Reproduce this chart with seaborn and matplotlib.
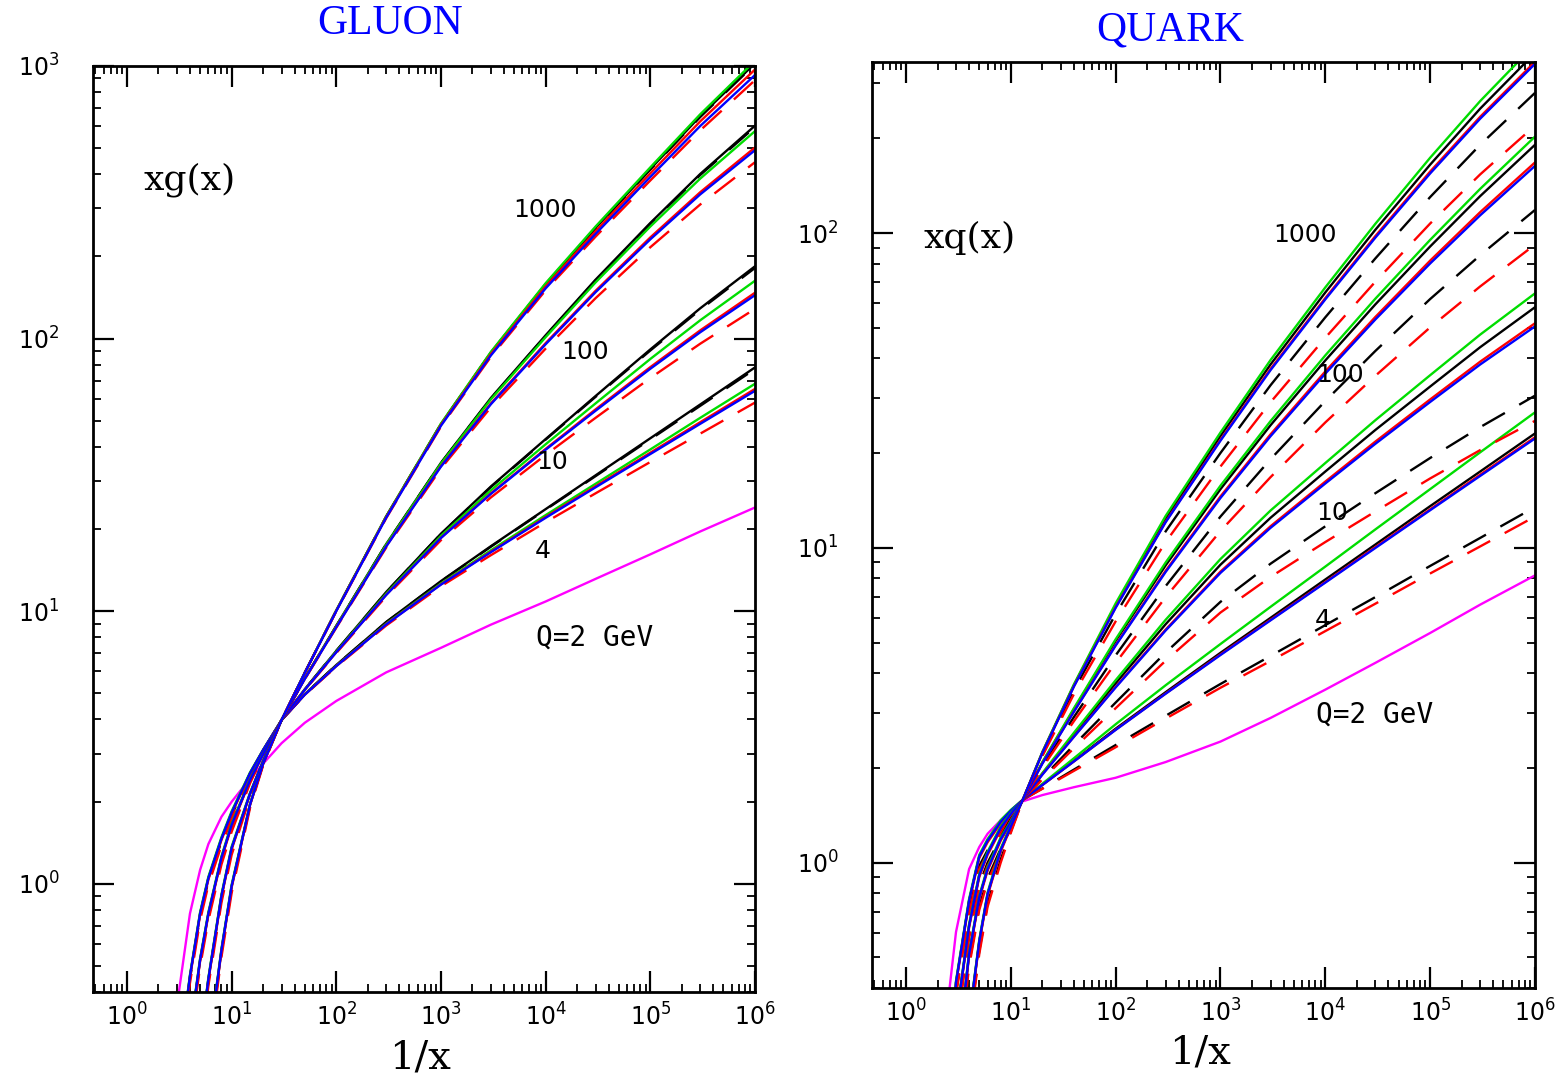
import numpy as np
import matplotlib
matplotlib.use("Agg")
import matplotlib.pyplot as plt
import seaborn as sns
from matplotlib.ticker import FixedLocator, LogLocator, NullFormatter, FuncFormatter

# ---------------- data (stored as log10 of the PDF) -------------
# horizontal grid: 1/x
GLUON_INV_X = [3, 4, 5, 6, 8, 10, 15, 20, 30, 50, 100, 300, 1e3, 3e3, 1e4, 3e4, 1e5, 3e5, 1e6]
QUARK_INV_X = [2.5, 3, 4, 5, 6, 8, 10, 13, 20, 40, 100, 300, 1e3, 3e3, 1e4, 3e4, 1e5, 3e5, 1e6]

# ---- GLUON  log10 xg(x)
G2_MAGENTA = [-0.45, -0.11, 0.05, 0.145, 0.245, 0.30, 0.385, 0.44, 0.515, 0.59, 0.67, 0.775, 0.865, 0.95, 1.035, 1.118, 1.208, 1.292, 1.38]

G4_BLACK = [-0.71, -0.34, -0.11, 0.02, 0.165, 0.26, 0.405, 0.49, 0.60, 0.695, 0.802, 0.960, 1.110, 1.238, 1.374, 1.498, 1.634, 1.758, 1.894]
G4_BLACK_DASH = [-0.72, -0.35, -0.12, 0.01, 0.155, 0.25, 0.40, 0.488, 0.60, 0.695, 0.802, 0.959, 1.109, 1.236, 1.372, 1.495, 1.630, 1.753, 1.888]
G4_GREEN = [-0.705, -0.335, -0.105, 0.025, 0.17, 0.265, 0.408, 0.491, 0.60, 0.694, 0.799, 0.954, 1.101, 1.223, 1.352, 1.467, 1.593, 1.709, 1.834]
G4_RED = [-0.715, -0.345, -0.115, 0.015, 0.16, 0.255, 0.403, 0.489, 0.60, 0.693, 0.798, 0.952, 1.098, 1.218, 1.345, 1.458, 1.581, 1.693, 1.815]
G4_RED_DASH = [-0.735, -0.365, -0.135, -0.005, 0.14, 0.235, 0.393, 0.484, 0.60, 0.692, 0.796, 0.947, 1.091, 1.205, 1.326, 1.432, 1.547, 1.651, 1.765]
G4_BLUE = [-0.71, -0.34, -0.11, 0.02, 0.165, 0.26, 0.405, 0.49, 0.60, 0.693, 0.798, 0.951, 1.097, 1.216, 1.342, 1.454, 1.576, 1.687, 1.808]

G10_BLACK = [-0.96, -0.55, -0.28, -0.11, 0.095, 0.215, 0.38, 0.475, 0.60, 0.713, 0.854, 1.070, 1.284, 1.457, 1.631, 1.789, 1.960, 2.111, 2.265]
G10_BLACK_DASH = [-0.97, -0.56, -0.29, -0.12, 0.085, 0.205, 0.375, 0.472, 0.60, 0.713, 0.854, 1.069, 1.283, 1.455, 1.629, 1.786, 1.956, 2.106, 2.259]
G10_GREEN = [-0.955, -0.545, -0.275, -0.105, 0.10, 0.22, 0.383, 0.476, 0.60, 0.712, 0.852, 1.064, 1.276, 1.443, 1.612, 1.762, 1.925, 2.067, 2.212]
G10_RED = [-0.965, -0.555, -0.285, -0.115, 0.09, 0.21, 0.378, 0.474, 0.60, 0.711, 0.849, 1.060, 1.269, 1.432, 1.595, 1.740, 1.895, 2.030, 2.168]
G10_RED_DASH = [-0.985, -0.575, -0.305, -0.135, 0.07, 0.19, 0.368, 0.469, 0.60, 0.710, 0.846, 1.054, 1.260, 1.417, 1.573, 1.709, 1.855, 1.981, 2.109]
G10_BLUE = [-0.96, -0.55, -0.28, -0.11, 0.095, 0.215, 0.38, 0.475, 0.60, 0.711, 0.849, 1.059, 1.268, 1.43, 1.592, 1.735, 1.889, 2.023, 2.159]

G100_BLACK = [-1.4, -0.93, -0.59, -0.35, -0.045, 0.13, 0.33, 0.45, 0.60, 0.753, 0.946, 1.246, 1.544, 1.782, 2.012, 2.216, 2.424, 2.604, 2.781]
G100_BLACK_DASH = [-1.41, -0.94, -0.60, -0.36, -0.055, 0.12, 0.325, 0.447, 0.60, 0.753, 0.945, 1.246, 1.543, 1.780, 2.010, 2.213, 2.421, 2.600, 2.776]
G100_GREEN = [-1.395, -0.925, -0.585, -0.345, -0.04, 0.135, 0.333, 0.451, 0.60, 0.752, 0.945, 1.244, 1.541, 1.777, 2.005, 2.206, 2.411, 2.587, 2.761]
G100_RED = [-1.405, -0.935, -0.595, -0.355, -0.05, 0.125, 0.328, 0.449, 0.60, 0.751, 0.942, 1.238, 1.532, 1.762, 1.983, 2.175, 2.371, 2.537, 2.701]
G100_RED_DASH = [-1.425, -0.955, -0.615, -0.375, -0.07, 0.105, 0.318, 0.444, 0.60, 0.750, 0.939, 1.233, 1.523, 1.748, 1.963, 2.148, 2.335, 2.492, 2.647]
G100_BLUE = [-1.4, -0.93, -0.59, -0.35, -0.045, 0.13, 0.33, 0.45, 0.60, 0.751, 0.941, 1.237, 1.53, 1.759, 1.979, 2.17, 2.364, 2.529, 2.691]

G1000_BLACK = [-1.9, -1.26, -0.875, -0.61, -0.244, -0.01, 0.29, 0.44, 0.60, 0.774, 1.002, 1.347, 1.686, 1.949, 2.200, 2.406, 2.622, 2.816, 3.010]
G1000_BLACK_DASH = [-1.91, -1.27, -0.885, -0.62, -0.254, -0.02, 0.285, 0.437, 0.60, 0.774, 1.002, 1.347, 1.686, 1.948, 2.199, 2.404, 2.620, 2.813, 3.007]
G1000_GREEN = [-1.895, -1.255, -0.87, -0.605, -0.239, -0.005, 0.293, 0.441, 0.60, 0.774, 1.003, 1.348, 1.688, 1.951, 2.203, 2.411, 2.628, 2.823, 3.019]
G1000_RED = [-1.905, -1.265, -0.88, -0.615, -0.249, -0.015, 0.288, 0.439, 0.60, 0.773, 1.001, 1.345, 1.683, 1.943, 2.191, 2.394, 2.606, 2.797, 2.987]
G1000_RED_DASH = [-1.925, -1.285, -0.90, -0.635, -0.269, -0.035, 0.278, 0.434, 0.60, 0.773, 0.999, 1.341, 1.677, 1.933, 2.177, 2.374, 2.580, 2.764, 2.948]
G1000_BLUE = [-1.9, -1.26, -0.875, -0.61, -0.244, -0.01, 0.29, 0.44, 0.60, 0.773, 1.0, 1.343, 1.68, 1.938, 2.184, 2.384, 2.593, 2.78, 2.967]

# ---- QUARK  log10 xq(x)
Q2_MAGENTA = [-0.45, -0.22, -0.02, 0.05, 0.092, 0.135, 0.165, 0.195, 0.215, 0.24, 0.27, 0.32, 0.385, 0.46, 0.55, 0.635, 0.73, 0.82, 0.913]

Q4_BLACK = [-0.80, -0.38, -0.12, 0.02, 0.07, 0.13, 0.165, 0.20, 0.248, 0.324, 0.426, 0.542, 0.667, 0.778, 0.90, 1.011, 1.133, 1.243, 1.364]
Q4_BLACK_DASH = [-0.83, -0.41, -0.15, -0.01, 0.04, 0.10, 0.15, 0.20, 0.236, 0.296, 0.374, 0.467, 0.568, 0.657, 0.755, 0.844, 0.943, 1.032, 1.13]
Q4_GREEN = [-0.795, -0.375, -0.115, 0.025, 0.075, 0.135, 0.168, 0.20, 0.251, 0.332, 0.44, 0.564, 0.695, 0.813, 0.941, 1.059, 1.187, 1.304, 1.431]
Q4_RED = [-0.805, -0.385, -0.125, 0.015, 0.065, 0.125, 0.163, 0.20, 0.247, 0.322, 0.423, 0.538, 0.662, 0.772, 0.892, 1.003, 1.123, 1.233, 1.352]
Q4_RED_DASH = [-0.84, -0.42, -0.16, -0.02, 0.03, 0.09, 0.145, 0.20, 0.235, 0.292, 0.367, 0.458, 0.556, 0.641, 0.736, 0.823, 0.919, 1.005, 1.10]
Q4_BLUE = [-0.80, -0.38, -0.12, 0.02, 0.07, 0.13, 0.165, 0.20, 0.247, 0.322, 0.422, 0.537, 0.66, 0.77, 0.89, 1.0, 1.12, 1.229, 1.348]

Q10_BLACK = [-1.0, -0.50, -0.20, -0.04, 0.03, 0.11, 0.155, 0.20, 0.283, 0.407, 0.57, 0.758, 0.947, 1.096, 1.243, 1.375, 1.513, 1.638, 1.765]
Q10_BLACK_DASH = [-1.03, -0.53, -0.23, -0.07, 0.0, 0.08, 0.14, 0.20, 0.269, 0.374, 0.509, 0.668, 0.829, 0.95, 1.069, 1.174, 1.286, 1.384, 1.484]
Q10_GREEN = [-0.995, -0.495, -0.195, -0.035, 0.035, 0.115, 0.158, 0.20, 0.285, 0.413, 0.58, 0.772, 0.965, 1.119, 1.27, 1.406, 1.549, 1.678, 1.809]
Q10_RED = [-1.005, -0.505, -0.205, -0.045, 0.025, 0.105, 0.153, 0.20, 0.281, 0.401, 0.559, 0.741, 0.925, 1.069, 1.211, 1.338, 1.472, 1.592, 1.714]
Q10_RED_DASH = [-1.04, -0.54, -0.24, -0.08, -0.01, 0.07, 0.135, 0.20, 0.265, 0.364, 0.491, 0.642, 0.795, 0.908, 1.019, 1.116, 1.221, 1.311, 1.404]
Q10_BLUE = [-1.0, -0.50, -0.20, -0.04, 0.03, 0.11, 0.155, 0.20, 0.28, 0.40, 0.557, 0.738, 0.921, 1.064, 1.205, 1.331, 1.464, 1.583, 1.704]

Q100_BLACK = [-1.15, -0.66, -0.29, -0.11, -0.02, 0.075, 0.13, 0.20, 0.318, 0.488, 0.705, 0.945, 1.187, 1.39, 1.596, 1.774, 1.958, 2.118, 2.281]
Q100_BLACK_DASH = [-1.18, -0.69, -0.32, -0.14, -0.05, 0.045, 0.115, 0.20, 0.308, 0.463, 0.659, 0.879, 1.10, 1.282, 1.467, 1.626, 1.791, 1.93, 2.074]
Q100_GREEN = [-1.145, -0.655, -0.285, -0.105, -0.015, 0.08, 0.133, 0.20, 0.32, 0.491, 0.71, 0.954, 1.198, 1.403, 1.612, 1.792, 1.979, 2.141, 2.307]
Q100_RED = [-1.155, -0.665, -0.295, -0.115, -0.025, 0.07, 0.128, 0.20, 0.316, 0.481, 0.692, 0.928, 1.164, 1.361, 1.561, 1.734, 1.913, 2.067, 2.225]
Q100_RED_DASH = [-1.19, -0.70, -0.33, -0.15, -0.06, 0.035, 0.11, 0.20, 0.302, 0.45, 0.635, 0.844, 1.054, 1.225, 1.399, 1.547, 1.701, 1.831, 1.964]
Q100_BLUE = [-1.15, -0.66, -0.29, -0.11, -0.02, 0.075, 0.13, 0.20, 0.315, 0.48, 0.69, 0.924, 1.159, 1.355, 1.554, 1.726, 1.904, 2.057, 2.214]

Q1000_BLACK = [-1.45, -0.95, -0.50, -0.25, -0.10, 0.04, 0.115, 0.20, 0.351, 0.564, 0.818, 1.093, 1.356, 1.583, 1.812, 2.011, 2.218, 2.396, 2.573]
Q1000_BLACK_DASH = [-1.48, -0.98, -0.53, -0.28, -0.13, 0.01, 0.10, 0.20, 0.344, 0.549, 0.79, 1.053, 1.302, 1.517, 1.733, 1.92, 2.115, 2.281, 2.446]
Q1000_GREEN = [-1.445, -0.945, -0.495, -0.245, -0.095, 0.045, 0.118, 0.20, 0.352, 0.567, 0.824, 1.102, 1.367, 1.597, 1.828, 2.03, 2.24, 2.42, 2.60]
Q1000_RED = [-1.455, -0.955, -0.505, -0.255, -0.105, 0.035, 0.113, 0.20, 0.349, 0.561, 0.812, 1.084, 1.344, 1.569, 1.794, 1.991, 2.196, 2.37, 2.545]
Q1000_RED_DASH = [-1.49, -0.99, -0.54, -0.29, -0.14, 0.0, 0.095, 0.20, 0.339, 0.536, 0.767, 1.019, 1.259, 1.463, 1.668, 1.846, 2.031, 2.187, 2.342]
Q1000_BLUE = [-1.45, -0.95, -0.50, -0.25, -0.10, 0.04, 0.115, 0.20, 0.349, 0.56, 0.81, 1.082, 1.341, 1.565, 1.79, 1.986, 2.19, 2.364, 2.538]

GROUP_LABELS = ["1000", "100", "10", "4", "Q=2 GeV"]

# ---------------- styling -------------
BLACK, GREEN, RED, BLUE, MAGENTA = "#000000", "#00dd00", "#ff0000", "#0000ff", "#ff00ff"
SOLID, DASH = "-", (0, (11, 7))


def series_table(mag, groups):
    rows = [(MAGENTA, SOLID, mag)]
    for blk, blkd, grn, red, redd, blu in groups:
        rows += [(BLACK, SOLID, blk), (BLACK, DASH, blkd), (GREEN, SOLID, grn),
                 (RED, SOLID, red), (RED, DASH, redd), (BLUE, SOLID, blu)]
    return rows


GLUON_ROWS = series_table(G2_MAGENTA, [
    (G4_BLACK, G4_BLACK_DASH, G4_GREEN, G4_RED, G4_RED_DASH, G4_BLUE),
    (G10_BLACK, G10_BLACK_DASH, G10_GREEN, G10_RED, G10_RED_DASH, G10_BLUE),
    (G100_BLACK, G100_BLACK_DASH, G100_GREEN, G100_RED, G100_RED_DASH, G100_BLUE),
    (G1000_BLACK, G1000_BLACK_DASH, G1000_GREEN, G1000_RED, G1000_RED_DASH, G1000_BLUE),
])
QUARK_ROWS = series_table(Q2_MAGENTA, [
    (Q4_BLACK, Q4_BLACK_DASH, Q4_GREEN, Q4_RED, Q4_RED_DASH, Q4_BLUE),
    (Q10_BLACK, Q10_BLACK_DASH, Q10_GREEN, Q10_RED, Q10_RED_DASH, Q10_BLUE),
    (Q100_BLACK, Q100_BLACK_DASH, Q100_GREEN, Q100_RED, Q100_RED_DASH, Q100_BLUE),
    (Q1000_BLACK, Q1000_BLACK_DASH, Q1000_GREEN, Q1000_RED, Q1000_RED_DASH, Q1000_BLUE),
])

sns.set_theme(style="ticks")
plt.rcParams["font.family"] = ["DejaVu Sans"]
plt.rcParams["mathtext.fontset"] = "dejavusans"
plt.rcParams["text.color"] = "black"
plt.rcParams["axes.labelcolor"] = "black"
plt.rcParams["xtick.color"] = "black"
plt.rcParams["ytick.color"] = "black"

W, H = 1555, 1083
fig = plt.figure(figsize=(W / 100, H / 100), dpi=100)
fig.patch.set_facecolor("white")


def fx(px):
    return px / W


def fy(py):
    return 1 - py / H


ax_g = fig.add_axes([fx(93), fy(992), fx(755) - fx(93), fy(66) - fy(992)])
ax_q = fig.add_axes([fx(872), fy(988), fx(1535) - fx(872), fy(62) - fy(988)])


def decade_fmt(v, pos):
    return r"$10^{%d}$" % int(round(np.log10(v)))


for ax, inv_x, rows, ylim, ymaj in [
    (ax_g, GLUON_INV_X, GLUON_ROWS, (0.4, 1000), [1, 10, 100, 1000]),
    (ax_q, QUARK_INV_X, QUARK_ROWS, (0.4, 350), [1, 10, 100]),
]:
    ax.set_facecolor("white")
    ax.set_xscale("log")
    ax.set_yscale("log")
    for color, ls, logy in rows:
        sns.lineplot(x=inv_x, y=10 ** np.asarray(logy), ax=ax, color=color,
                     linestyle=ls, linewidth=1.7, estimator=None, sort=False,
                     legend=False)
    ax.set_xlim(0.474, 1.0e6)
    ax.set_ylim(*ylim)
    ax.xaxis.set_major_locator(FixedLocator([1, 10, 100, 1e3, 1e4, 1e5, 1e6]))
    ax.yaxis.set_major_locator(FixedLocator(ymaj))
    ax.xaxis.set_minor_locator(LogLocator(base=10, subs=np.arange(2, 10), numticks=100))
    ax.yaxis.set_minor_locator(LogLocator(base=10, subs=np.arange(2, 10), numticks=100))
    ax.xaxis.set_major_formatter(FuncFormatter(decade_fmt))
    ax.yaxis.set_major_formatter(FuncFormatter(decade_fmt))
    ax.xaxis.set_minor_formatter(NullFormatter())
    ax.yaxis.set_minor_formatter(NullFormatter())
    ax.tick_params(which="both", direction="in", top=True, right=True, colors="black")
    ax.tick_params(which="major", length=15, width=1.6, labelsize=17)
    ax.tick_params(which="minor", length=6, width=1.3)
    ax.tick_params(axis="x", which="major", pad=8)
    ax.tick_params(axis="y", which="major", pad=24)
    for sp in ax.spines.values():
        sp.set_linewidth(2.0)
        sp.set_color("black")
    ax.set_xlabel("")
    ax.set_ylabel("")
    ax.grid(False)

# titles / axis labels
fig.text(fx(390), fy(24), "GLUON", color=BLUE, fontsize=30, family="Liberation Serif",
         ha="center", va="center")
fig.text(fx(1170), fy(30), "QUARK", color=BLUE, fontsize=30, family="Liberation Serif",
         ha="center", va="center")
fig.text(fx(420), fy(1058), "1/x", fontsize=29, family="DejaVu Serif", ha="center", va="center")
fig.text(fx(1200), fy(1053), "1/x", fontsize=29, family="DejaVu Serif", ha="center", va="center")
fig.text(fx(190), fy(180), "xg(x)", fontsize=26, family="DejaVu Serif", ha="center", va="center")
fig.text(fx(970), fy(238), "xq(x)", fontsize=26, family="DejaVu Serif", ha="center", va="center")

# group annotations
G_POS = [(545, 210), (585, 352), (552, 462), (543, 551), (595, 638)]
Q_POS = [(1305, 235), (1340, 375), (1332, 513), (1323, 620), (1375, 715)]
for pos_list in (G_POS, Q_POS):
    for lab, (px, py) in zip(GROUP_LABELS, pos_list):
        if lab.startswith("Q"):
            fig.text(fx(px), fy(py), lab, fontsize=20, family="DejaVu Sans Mono",
                     ha="center", va="center")
        else:
            fig.text(fx(px), fy(py), lab, fontsize=18, family="DejaVu Sans",
                     ha="center", va="center")

fig.savefig("out.png", dpi=100, facecolor="white")
